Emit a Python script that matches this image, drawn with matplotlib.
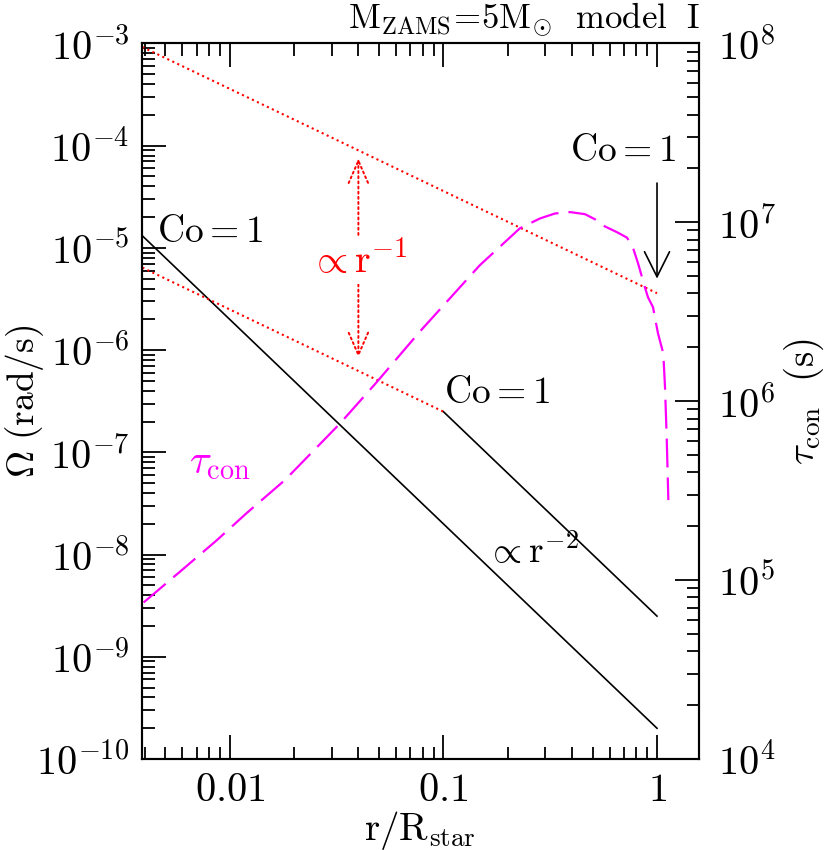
import numpy as np
import matplotlib
matplotlib.use("Agg")
import matplotlib.pyplot as plt
from matplotlib.ticker import FixedLocator, FixedFormatter, LogLocator, NullFormatter

plt.rcParams['mathtext.fontset'] = 'cm'
plt.rcParams['font.family'] = ['DejaVu Serif']

# ---------------- data ----------------
# Omega lines (rad/s) vs r/R_star
r_inner = [0.0039, 1.0]
omega_inner = [1.31e-5, 2.0e-10]      # Co=1, inner line (∝ r^-2)
r_outer = [0.1, 1.0]
omega_outer = [2.5e-7, 2.5e-9]        # Co=1 (∝ r^-2)
r_rot_low = [0.0039, 0.1]
omega_rot_low = [6.4e-6, 2.5e-7]      # ∝ r^-1 (red dotted)
r_rot_high = [0.0039, 1.0]
omega_rot_high = [9.2e-4, 3.6e-6]     # ∝ r^-1 (red dotted)

# convective turnover time tau_con (s)
r_tau = [0.00395, 0.00603, 0.00869, 0.0120, 0.0181, 0.0328, 0.0488, 0.0776,
         0.148, 0.228, 0.283, 0.333, 0.392, 0.460, 0.512, 0.558, 0.650, 0.724,
         0.772, 0.815, 0.879, 0.908, 0.958, 1.01, 1.07, 1.09, 1.11, 1.13]
tau_con = [7.5e4, 1.15e5, 1.67e5, 2.37e5, 3.62e5, 7.5e5, 1.28e6, 2.45e6,
           5.75e6, 9.25e6, 1.05e7, 1.12e7, 1.14e7, 1.11e7, 1.04e7, 9.6e6, 8.8e6, 8.2e6,
           7.2e6, 5.9e6, 4.3e6, 3.8e6, 3.35e6, 2.4e6, 1.85e6, 1.2e6, 6.3e5, 2.8e5]

x_ticks = [0.01, 0.1, 1.0]
x_tick_labels = [r'$0.01$', r'$0.1$', r'$1$']
y_exponents = list(range(-10, -2))
y2_exponents = list(range(4, 9))

# ---------------- figure ----------------
fig = plt.figure(figsize=(8.3, 8.5), dpi=100)
ax = fig.add_axes([0.171, 0.107, 0.671, 0.842])

ax.plot(r_inner, omega_inner, color='black', lw=1.2)
ax.plot(r_outer, omega_outer, color='black', lw=1.2)
ax.plot(r_rot_low, omega_rot_low, color='red', lw=1.5, ls=':')
ax.plot(r_rot_high, omega_rot_high, color='red', lw=1.5, ls=':')

ax.set_xscale('log')
ax.set_yscale('log')
ax.set_xlim(0.00388, 1.57)
ax.set_ylim(1e-10, 1e-3)

ax.xaxis.set_major_locator(FixedLocator(x_ticks))
ax.xaxis.set_major_formatter(FixedFormatter(x_tick_labels))
ax.xaxis.set_minor_locator(LogLocator(base=10, subs=np.arange(2, 10)))
ax.xaxis.set_minor_formatter(NullFormatter())
ax.yaxis.set_major_locator(FixedLocator([10.0**k for k in y_exponents]))
ax.yaxis.set_major_formatter(FixedFormatter([r'$10^{%d}$' % k for k in y_exponents]))
ax.yaxis.set_minor_locator(LogLocator(base=10, subs=np.arange(2, 10), numticks=20))
ax.yaxis.set_minor_formatter(NullFormatter())

ax.tick_params(which='both', direction='in', top=True, right=False, labelsize=29, width=1.3)
ax.tick_params(which='major', length=17, pad=9)
ax.tick_params(which='minor', length=9)
for s in ax.spines.values():
    s.set_linewidth(1.5)

ax.set_xlabel(r'$\mathrm{r/R_{star}}$', fontsize=28, labelpad=0)
ax.set_ylabel(r'$\Omega\ \mathrm{(rad/s)}$', fontsize=27)
ax.yaxis.set_label_coords(-0.172, 0.5)

# twin axis for tau_con
ax2 = ax.twinx()
ax2.plot(r_tau, tau_con, color='magenta', lw=1.6, dashes=(13, 4.5))
ax2.set_yscale('log')
ax2.set_ylim(1e4, 1e8)
ax2.set_xlim(0.00388, 1.57)
ax2.yaxis.set_major_locator(FixedLocator([10.0**k for k in y2_exponents]))
ax2.yaxis.set_major_formatter(FixedFormatter([r'$10^{%d}$' % k for k in y2_exponents]))
ax2.yaxis.set_minor_locator(LogLocator(base=10, subs=np.arange(2, 10), numticks=20))
ax2.yaxis.set_minor_formatter(NullFormatter())
ax2.tick_params(which='both', direction='in', labelsize=29, width=1.3)
ax2.tick_params(which='major', length=17, pad=14)
ax2.tick_params(which='minor', length=9)
ax2.set_ylabel(r'$\tau_{\mathrm{con}}\ \ \mathrm{(s)}$', fontsize=28)
ax2.yaxis.set_label_coords(1.148, 0.5)
for s in ax2.spines.values():
    s.set_linewidth(1.5)

# annotations
ax.text(0.027, 0.722, r'$\mathrm{Co=1}$', transform=ax.transAxes, fontsize=27, ha='left', va='baseline')
ax.text(0.542, 0.497, r'$\mathrm{Co=1}$', transform=ax.transAxes, fontsize=27, ha='left', va='baseline')
ax.text(0.768, 0.835, r'$\mathrm{Co=1}$', transform=ax.transAxes, fontsize=27, ha='left', va='baseline')
ax.text(0.618, 0.274, r'$\propto\mathrm{r}^{-2}$', transform=ax.transAxes, fontsize=27, ha='left', va='baseline')
ax.text(0.084, 0.40, r'$\tau_{\mathrm{con}}$', transform=ax.transAxes, fontsize=29, ha='left', va='baseline', color='magenta')

ax.annotate('', xy=(1.0, 5.0e-6), xytext=(1.0, 4.3e-5),
            arrowprops=dict(arrowstyle='->,head_length=0.9,head_width=0.45', color='black', lw=1.2,
                            shrinkA=0, shrinkB=0, mutation_scale=20))
ax.annotate('', xy=(0.04, 8.5e-7), xytext=(0.04, 7.5e-5),
            arrowprops=dict(arrowstyle='<->,head_length=0.8,head_width=0.35', color='red', lw=1.4, ls=':',
                            shrinkA=0, shrinkB=0, mutation_scale=20))
ax.text(0.04, 7.5e-6, r'$\propto\mathrm{r}^{-1}$', fontsize=29, color='red', ha='center', va='center',
        bbox=dict(facecolor='white', edgecolor='none', pad=2))

fig.text(0.843, 0.9665, r'$\mathrm{M_{ZAMS}\!=\!5M_{\odot}}$' + '  ' + r'$\mathrm{model\ \ I}$',
         fontsize=25, ha='right', va='baseline')

fig.savefig('out.png', dpi=100)
